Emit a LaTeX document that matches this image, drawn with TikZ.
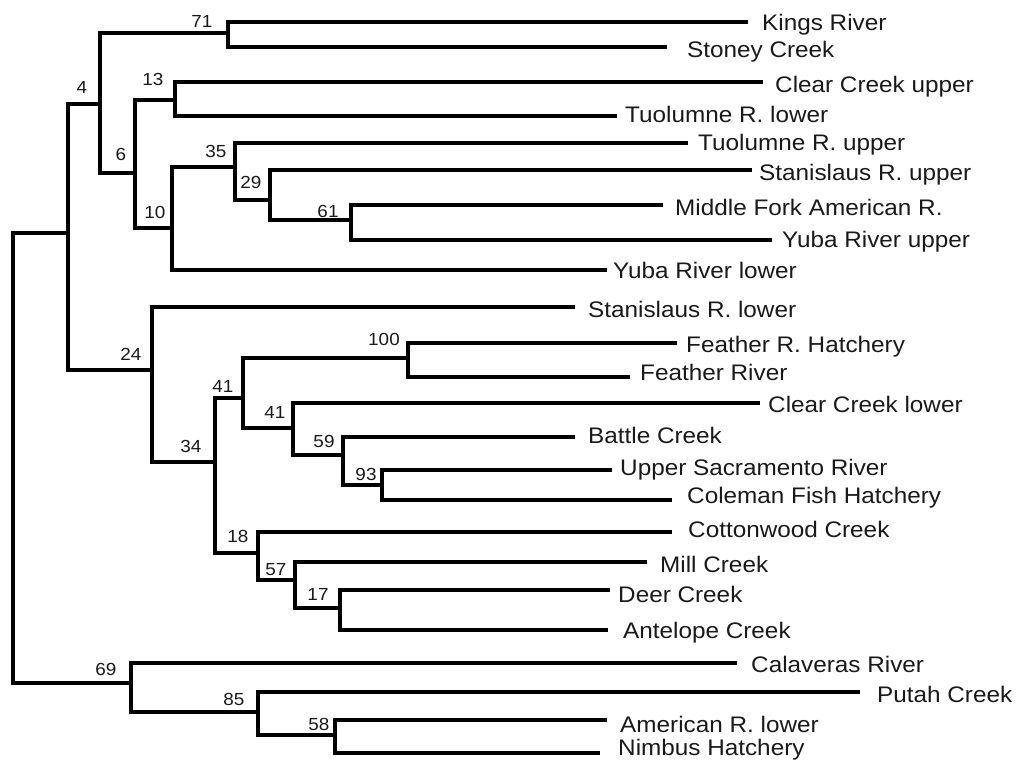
\documentclass[tikz,border=0pt]{standalone}
\usepackage{fontspec}
\setmainfont[FakeStretch=1.08]{Liberation Sans}
\begin{document}
\begin{tikzpicture}[x=1pt,y=-1pt,
  branch/.style={line width=4.5pt,line join=miter,black},
  leaflbl/.style={anchor=base west,inner sep=0pt,text=black!90,font=\fontsize{22.5}{26}\selectfont},
  supp/.style={anchor=base,inner sep=0pt,text=black!90,font=\fontsize{17.5}{20}\selectfont}]
\useasboundingbox (0,0) rectangle (1018,766);
% internal nodes
\coordinate (root) at (13,458);
\coordinate (B) at (68,233);
\coordinate (C) at (100,104);
\coordinate (n71) at (228,33);
\coordinate (n6) at (135,173);
\coordinate (n13) at (175,100);
\coordinate (n10) at (172,228);
\coordinate (n35) at (235,167);
\coordinate (n29) at (270,200);
\coordinate (n61) at (351,220);
\coordinate (n24) at (152,370);
\coordinate (n34) at (215,462);
\coordinate (n41a) at (243,398);
\coordinate (n100) at (408,358);
\coordinate (n41b) at (293,428);
\coordinate (n59) at (343,455);
\coordinate (n93) at (382,485);
\coordinate (n18) at (258,553);
\coordinate (n57) at (295,580);
\coordinate (n17) at (340,608);
\coordinate (n69) at (131,683);
\coordinate (n85) at (258,712);
\coordinate (n58) at (335,735);
% leaves
\coordinate (kings) at (748,22);
\coordinate (stoney) at (667,47);
\coordinate (clearup) at (763,82);
\coordinate (tuollow) at (617,116);
\coordinate (tuolup) at (688,143);
\coordinate (stanup) at (752,170);
\coordinate (midfork) at (663,205);
\coordinate (yubaup) at (772,240);
\coordinate (yubalow) at (607,270);
\coordinate (stanlow) at (575,307);
\coordinate (frh) at (677,343);
\coordinate (fr) at (630,377);
\coordinate (clearlow) at (760,403);
\coordinate (battle) at (575,437);
\coordinate (uppersac) at (612,470);
\coordinate (coleman) at (672,500);
\coordinate (cotton) at (672,532);
\coordinate (mill) at (647,562);
\coordinate (deer) at (610,590);
\coordinate (antelope) at (608,630);
\coordinate (calaveras) at (737,663);
\coordinate (putah) at (860,692);
\coordinate (amlow) at (607,720);
\coordinate (nimbus) at (600,753);
% branches
\foreach \p/\c in {root/B,root/n69,B/C,B/n24,C/n71,C/n6,n71/kings,n71/stoney,
  n6/n13,n6/n10,n13/clearup,n13/tuollow,n10/n35,n10/yubalow,n35/tuolup,n35/n29,
  n29/stanup,n29/n61,n61/midfork,n61/yubaup,n24/stanlow,n24/n34,n34/n41a,n34/n18,
  n41a/n100,n41a/n41b,n100/frh,n100/fr,n41b/clearlow,n41b/n59,n59/battle,n59/n93,
  n93/uppersac,n93/coleman,n18/cotton,n18/n57,n57/mill,n57/n17,n17/deer,n17/antelope,
  n69/calaveras,n69/n85,n85/putah,n85/n58,n58/amlow,n58/nimbus}
  \draw[branch] (\p) |- (\c);
% leaf labels
\node[leaflbl] (lkings) at (762,30) {Kings River};
\node[leaflbl] (lstoney) at (687,57) {Stoney Creek};
\node[leaflbl] (lclearup) at (775,92) {Clear Creek upper};
\node[leaflbl] (ltuollow) at (625,122) {Tuolumne R. lower};
\node[leaflbl] (ltuolup) at (698,150) {Tuolumne R. upper};
\node[leaflbl] (lstanup) at (759,180) {Stanislaus R. upper};
\node[leaflbl] (lmidfork) at (675,215) {Middle Fork American R.};
\node[leaflbl] (lyubaup) at (782,247) {Yuba River upper};
\node[leaflbl] (lyubalow) at (613,278) {Yuba River lower};
\node[leaflbl] (lstanlow) at (588,317) {Stanislaus R. lower};
\node[leaflbl] (lfrh) at (686,352) {Feather R. Hatchery};
\node[leaflbl] (lfr) at (640,380) {Feather River};
\node[leaflbl] (lclearlow) at (768,412) {Clear Creek lower};
\node[leaflbl] (lbattle) at (588,443) {Battle Creek};
\node[leaflbl] (luppersac) at (620,475) {Upper Sacramento River};
\node[leaflbl] (lcoleman) at (687,503) {Coleman Fish Hatchery};
\node[leaflbl] (lcotton) at (688,537) {Cottonwood Creek};
\node[leaflbl] (lmill) at (660,572) {Mill Creek};
\node[leaflbl] (ldeer) at (618,602) {Deer Creek};
\node[leaflbl] (lantelope) at (623,638) {Antelope Creek};
\node[leaflbl] (lcalaveras) at (751,672) {Calaveras River};
\node[leaflbl] (lputah) at (877,702) {Putah Creek};
\node[leaflbl] (lamlow) at (620,732) {American R. lower};
\node[leaflbl] (lnimbus) at (618,755) {Nimbus Hatchery};
% support values
\node[supp] (s71) at (202,27) {71};
\node[supp] (s4) at (82,93) {4};
\node[supp] (s13) at (153,85) {13};
\node[supp] (s6) at (121,160) {6};
\node[supp] (s35) at (216,157) {35};
\node[supp] (s29) at (251,188) {29};
\node[supp] (s10) at (155,218) {10};
\node[supp] (s61) at (328,217) {61};
\node[supp] (s24) at (131,360) {24};
\node[supp] (s41a) at (223,392) {41};
\node[supp] (s41b) at (275,418) {41};
\node[supp] (s34) at (191,452) {34};
\node[supp] (s59) at (324,447) {59};
\node[supp] (s100) at (384,345) {100};
\node[supp] (s93) at (366,480) {93};
\node[supp] (s18) at (238,542) {18};
\node[supp] (s57) at (276,575) {57};
\node[supp] (s17) at (318,600) {17};
\node[supp] (s69) at (106,675) {69};
\node[supp] (s85) at (234,705) {85};
\node[supp] (s58) at (319,730) {58};
\end{tikzpicture}
\end{document}
